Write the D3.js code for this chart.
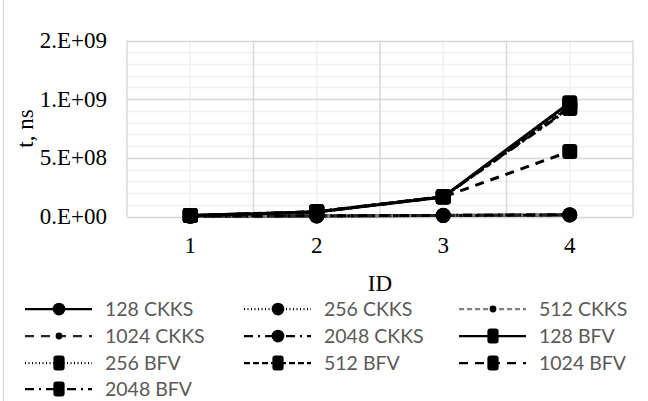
<!DOCTYPE html>
<html>
<head>
<meta charset="utf-8">
<script src="https://cdn.jsdelivr.net/npm/d3@7"></script>
<style>
  body { margin: 0; background: #fff; }
  svg { display: block; }
</style>
</head>
<body>
<svg id="chart"></svg>
<script>
// values
const ids = [1, 2, 3, 4];
const seriesNames = ["128 CKKS", "256 CKKS", "512 CKKS", "1024 CKKS", "2048 CKKS",
  "128 BFV", "256 BFV", "512 BFV", "1024 BFV", "2048 BFV"];
const ckks128 = [2.1e6, 4.5e6, 8.0e6, 1.3e7];
const ckks256 = [2.3e6, 4.8e6, 8.5e6, 1.35e7];
const ckks512 = [2.5e6, 5.2e6, 9.0e6, 1.4e7];
const ckks1024 = [2.7e6, 5.5e6, 9.5e6, 1.45e7];
const ckks2048 = [3.0e6, 6.0e6, 1.0e7, 1.5e7];
const bfv128 = [7.5e6, 3.8e7, 1.67e8, 9.7e8];
const bfv256 = [7.8e6, 3.9e7, 1.68e8, 9.5e8];
const bfv512 = [8.0e6, 4.0e7, 1.69e8, 9.3e8];
const bfv1024 = [8.2e6, 4.0e7, 1.66e8, 5.55e8];
const bfv2048 = [8.5e6, 4.1e7, 1.70e8, 9.2e8];
const yTickValues = [0, 5e8, 1e9, 1.5e9];
const yTickLabels = ["0.E+00", "5.E+08", "1.E+09", "2.E+09"];

const seriesValues = [ckks128, ckks256, ckks512, ckks1024, ckks2048,
  bfv128, bfv256, bfv512, bfv1024, bfv2048];

// per series look: dash, marker shape, marker size, line colour
const styles = [
  { dash: null, shape: "circle", r: 7.5, color: "#000" },
  { dash: "1,2.5", shape: "circle", r: 7.5, color: "#000" },
  { dash: "5,3", shape: "circle", r: 4, color: "#7f7f7f" },
  { dash: "9,7", shape: "circle", r: 4, color: "#262626" },
  { dash: "9,5,2,5", shape: "circle", r: 7.5, color: "#000" },
  { dash: null, shape: "square", r: 7.5, color: "#000" },
  { dash: "1,2.5", shape: "square", r: 7.5, color: "#000" },
  { dash: "6,3", shape: "square", r: 7.5, color: "#000" },
  { dash: "9,7", shape: "square", r: 7.5, color: "#000" },
  { dash: "9,5,2,5", shape: "square", r: 7.5, color: "#000" }
];

const width = 648, height = 401;
const plot = { left: 127, right: 633, top: 40.5, bottom: 216.5 };
const serif = "'Liberation Serif', 'Times New Roman', serif";
const sans = "Lato, 'Liberation Sans', Arial, sans-serif";

const svg = d3.select("#chart").attr("width", width).attr("height", height);

// chart frame (only the left side shows in the picture)
svg.append("line")
  .attr("x1", 3.5).attr("x2", 3.5).attr("y1", 0).attr("y2", height)
  .attr("stroke", "#d9d9d9").attr("stroke-width", 1.5);

const x = d3.scaleBand().domain(ids).range([plot.left, plot.right]);
const y = d3.scaleLinear().domain([0, 1.5e9]).range([plot.bottom, plot.top]);
const cx = d => x(d) + x.bandwidth() / 2;

const grid = svg.append("g");

// minor gridlines
grid.selectAll(".hminor")
  .data(d3.range(0, 1.5e9 + 1, 1e8))
  .join("line")
  .attr("x1", plot.left).attr("x2", plot.right)
  .attr("y1", d => Math.round(y(d)) + 0.5).attr("y2", d => Math.round(y(d)) + 0.5)
  .attr("stroke", "#f0f0f0").attr("stroke-width", 1.5);

grid.selectAll(".vminor")
  .data(ids)
  .join("line")
  .attr("x1", d => cx(d)).attr("x2", d => cx(d))
  .attr("y1", plot.top).attr("y2", plot.bottom)
  .attr("stroke", "#f0f0f0").attr("stroke-width", 1.5);

// major gridlines
grid.selectAll(".hmajor")
  .data(yTickValues)
  .join("line")
  .attr("x1", plot.left).attr("x2", plot.right)
  .attr("y1", d => Math.round(y(d)) + 0.5).attr("y2", d => Math.round(y(d)) + 0.5)
  .attr("stroke", "#d9d9d9").attr("stroke-width", 1.5);

grid.selectAll(".vmajor")
  .data(ids.concat([5]))
  .join("line")
  .attr("x1", (d, i) => plot.left + i * x.bandwidth())
  .attr("x2", (d, i) => plot.left + i * x.bandwidth())
  .attr("y1", plot.top).attr("y2", plot.bottom)
  .attr("stroke", "#d9d9d9").attr("stroke-width", 1.5);

// y axis labels
svg.append("g").selectAll("text")
  .data(yTickValues)
  .join("text")
  .attr("x", 107)
  .attr("y", d => y(d) + 7.5)
  .attr("text-anchor", "end")
  .style("font-family", serif).style("font-size", "23px").attr("fill", "#000")
  .text((d, i) => yTickLabels[i]);

// x axis labels
svg.append("g").selectAll("text")
  .data(ids)
  .join("text")
  .attr("x", d => cx(d))
  .attr("y", 253)
  .attr("text-anchor", "middle")
  .style("font-family", serif).style("font-size", "23px").attr("fill", "#000")
  .text(d => d);

svg.append("text")
  .attr("x", (plot.left + plot.right) / 2).attr("y", 291)
  .attr("text-anchor", "middle")
  .style("font-family", serif).style("font-size", "23px")
  .text("ID");

svg.append("text")
  .attr("transform", `translate(33, ${(plot.top + plot.bottom) / 2}) rotate(-90)`)
  .attr("text-anchor", "middle")
  .style("font-family", serif).style("font-size", "23px")
  .text("t, ns");

function drawMarker(g, st, px, py, scale) {
  const r = st.r * scale;
  if (st.shape === "circle") {
    g.append("circle").attr("cx", px).attr("cy", py).attr("r", r).attr("fill", "#000");
  } else {
    const w = r * 2, h = st.squareH ? st.squareH : r * 2;
    g.append("rect")
      .attr("x", px - w / 2).attr("y", py - h / 2)
      .attr("width", w).attr("height", h)
      .attr("rx", 3).attr("fill", "#000");
  }
}

// series
const line = d3.line().x(d => cx(d.id)).y(d => y(d.v));
const seriesG = svg.append("g");
seriesNames.forEach((name, i) => {
  const st = styles[i];
  const pts = ids.map((id, j) => ({ id: id, v: seriesValues[i][j] }));
  const g = seriesG.append("g");
  g.append("path")
    .datum(pts)
    .attr("d", line)
    .attr("fill", "none")
    .attr("stroke", st.color)
    .attr("stroke-width", 3)
    .attr("stroke-dasharray", st.dash)
    .attr("stroke-linejoin", "round");
  pts.forEach(p => drawMarker(g, st, cx(p.id), y(p.v), 1));
});

// legend
const legCols = [25, 244, 459];
const legRows = [309, 336, 363, 389];
const legend = svg.append("g");
seriesNames.forEach((name, i) => {
  const st = styles[i];
  const lx = legCols[i % 3], ly = legRows[Math.floor(i / 3)];
  const g = legend.append("g");
  g.append("line")
    .attr("x1", lx).attr("x2", lx + 67)
    .attr("y1", ly).attr("y2", ly)
    .attr("stroke", st.color)
    .attr("stroke-width", 2.25)
    .attr("stroke-dasharray", st.dash);
  const ms = Object.assign({}, st, st.shape === "square" ? { squareH: 15 } : {});
  drawMarker(g, ms, lx + 34, ly, st.shape === "square" ? 0.75 : 0.85);
  g.append("text")
    .attr("x", lx + 80).attr("y", ly + 7)
    .style("font-family", sans).style("font-size", "19.5px")
    .attr("fill", "#595959")
    .text(name);
});
</script>
</body>
</html>
